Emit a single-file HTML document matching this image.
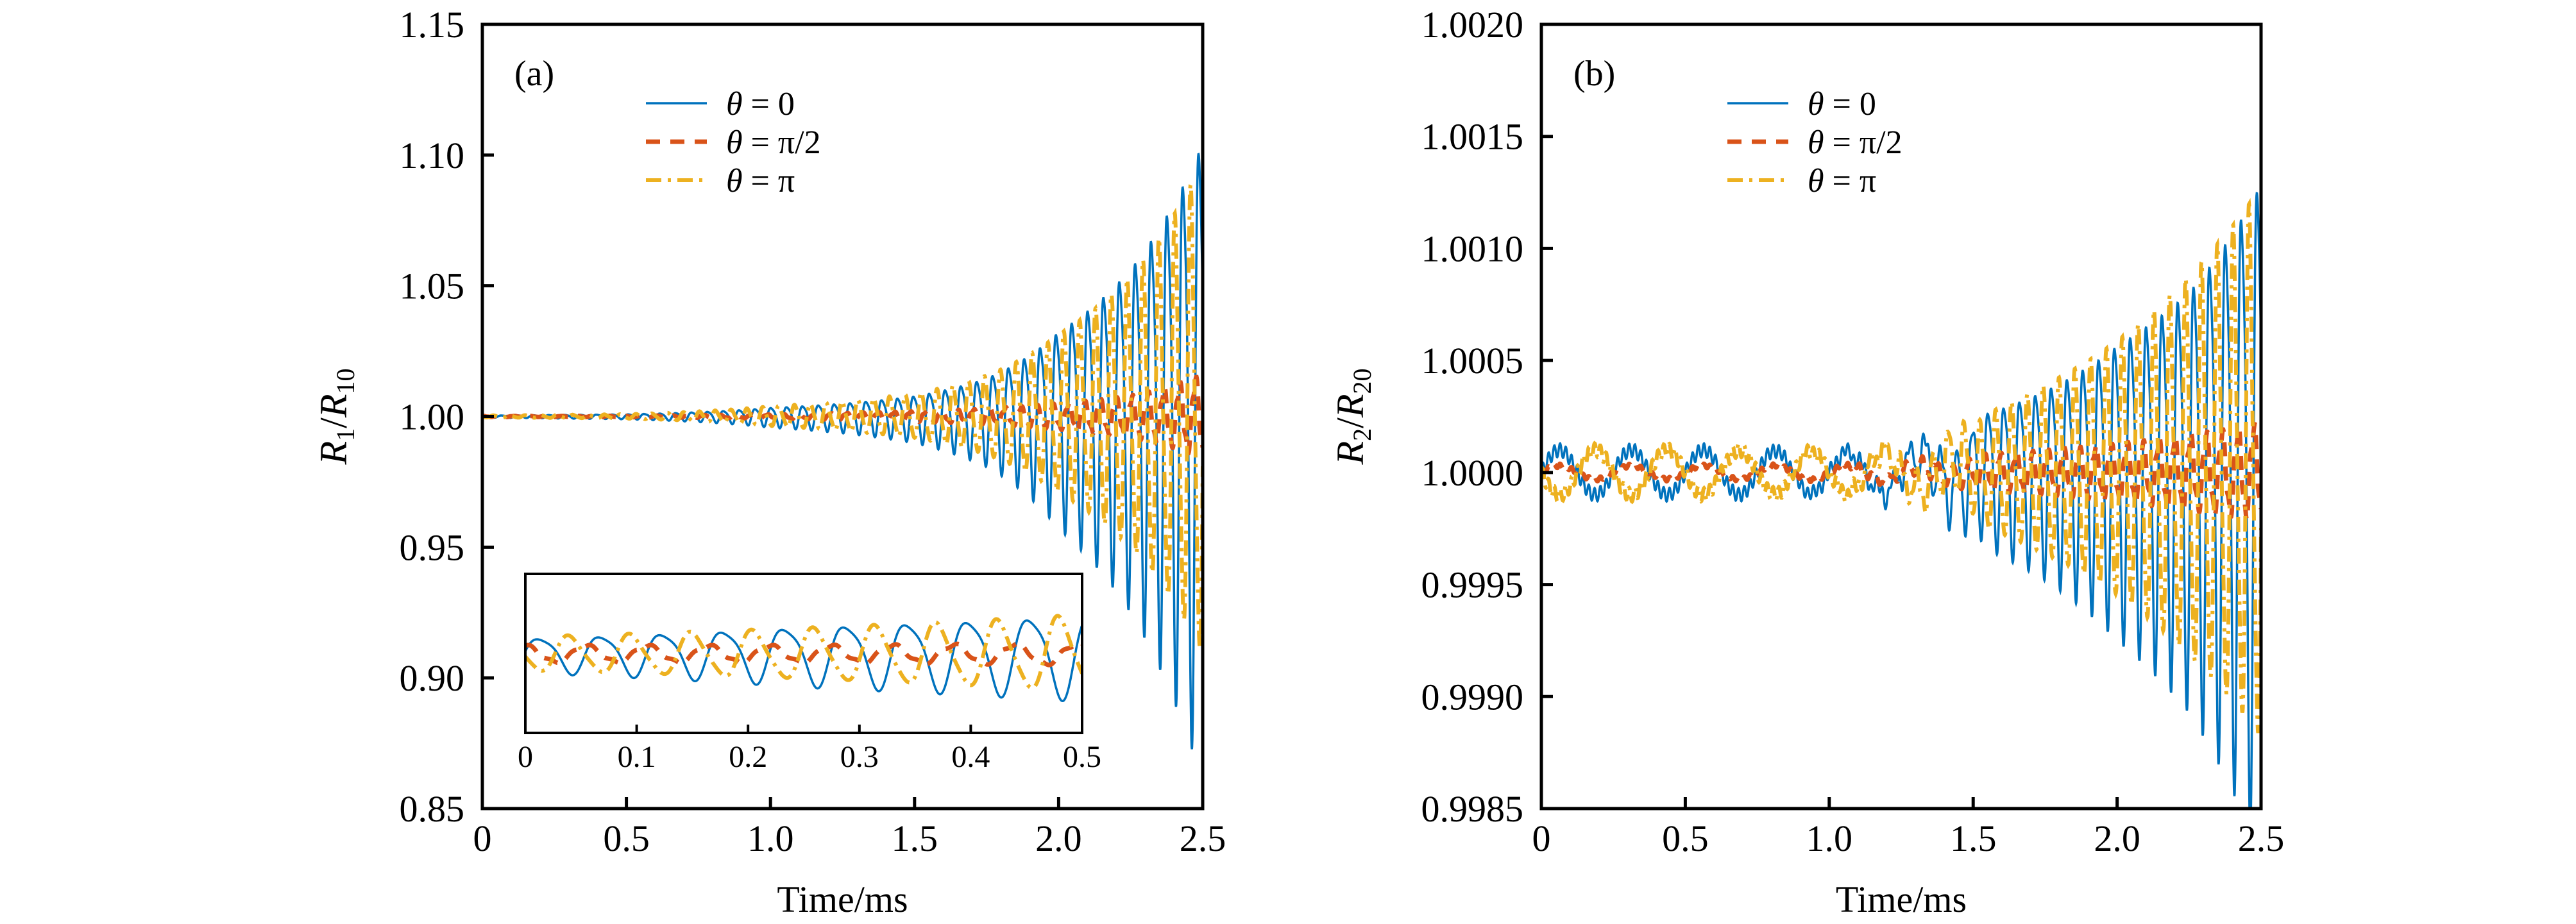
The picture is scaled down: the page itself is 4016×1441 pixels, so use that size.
<!DOCTYPE html>
<html><head><meta charset="utf-8"><style>
html,body{margin:0;padding:0;background:#fff;}
svg{display:block;}
text{font-family:"Liberation Serif",serif;fill:#000;}
</style></head><body>
<svg id="fig" width="4016" height="1441" viewBox="0 0 4016 1441" xmlns="http://www.w3.org/2000/svg"></svg>
<script>
// ---- data (envelopes at t = 0,0.25,...,2.5 ms) ----
const envTimes = [0,0.25,0.5,0.75,1.0,1.25,1.5,1.75,2.0,2.25,2.5];
const aBlue   = [0.0004,0.0007,0.001,0.002,0.004,0.006,0.0095,0.018,0.04,0.07,0.13];
const aOrange = [0.0002,0.0002,0.00025,0.0005,0.0008,0.0013,0.002,0.003,0.005,0.008,0.016];
const aYellow = [0.0004,0.0006,0.0009,0.002,0.004,0.006,0.009,0.016,0.032,0.055,0.1];
const bBlue   = [0.0001,0.0001,0.0001,0.0001,0.0001,0.00015,0.0003,0.00045,0.0007,0.001,0.0016];
const bOrange = [0.00003,0.00003,0.00003,0.00003,0.00004,0.00006,0.00008,0.0001,0.00013,0.00017,0.00022];
const bYellow = [0.0001,0.0001,0.0001,0.0001,0.0001,0.00015,0.00025,0.0004,0.0006,0.0009,0.0013];
const bSlowWeight = [1,1,1,1,0.9,0.6,0.2,0,0,0,0];
const xTicks = ["0","0.5","1.0","1.5","2.0","2.5"];
const xTickVals = [0,0.5,1.0,1.5,2.0,2.5];
const aYTicks = ["0.85","0.90","0.95","1.00","1.05","1.10","1.15"];
const aYVals = [0.85,0.90,0.95,1.00,1.05,1.10,1.15];
const bYTicks = ["0.9985","0.9990","0.9995","1.0000","1.0005","1.0010","1.0015","1.0020"];
const bYVals = [0.9985,0.9990,0.9995,1.0000,1.0005,1.0010,1.0015,1.0020];
const insetTicks = ["0","0.1","0.2","0.3","0.4","0.5"];
const insetTickVals = [0,0.1,0.2,0.3,0.4,0.5];
const legendLabels = ["θ = 0","θ = π/2","θ = π"];
const periodMs = 0.055;

const NS="http://www.w3.org/2000/svg";
const svg=document.getElementById('fig');
function el(tag,attrs,parent){const e=document.createElementNS(NS,tag);for(const k in attrs)e.setAttribute(k,attrs[k]);(parent||svg).appendChild(e);return e;}
function env(arr,t){const i=Math.min(Math.floor(t/0.25),arr.length-2);const f=(t-envTimes[i])/0.25;return Math.exp(Math.log(arr[i])*(1-f)+Math.log(arr[i+1])*f);}
function lin(d0,d1,r0,r1){return v=>r0+(v-d0)/(d1-d0)*(r1-r0);}
const BLUE="#0072BD",ORANGE="#D95319",YELLOW="#EDB120";
const styles=[{c:BLUE,w:3.5,d:null},{c:ORANGE,w:7,d:"22,16"},{c:YELLOW,w:6,d:"24,10,5,10"}];

function sig(kind,t,amp,slowW){
  const w=2*Math.PI*t/periodMs;
  let fast;
  if(kind===0) fast=Math.sin(w)+0.2*Math.sin(2*w+1);
  else if(kind===1) fast=Math.sin(w+1.6)+0.2*Math.sin(3*w);
  else fast=Math.sin(w+Math.PI*1.05)+0.15*Math.sin(2*w);
  fast/=1.1;
  if(slowW!==undefined){
    const ph=kind===2?Math.PI:0;
    const slow=Math.sin(2*Math.PI*t/0.25+ph);
    const ripple=0.3*Math.sin(2*Math.PI*t/0.02);
    return amp*(slowW*(slow+ripple)+(1-slowW)*fast);
  }
  return amp*fast;
}
function drawSeries(g,xs,ys,t0,t1,arrs,slow,clipId){
  const N=3000;
  arrs.forEach((arr,k)=>{
    let d="";
    for(let i=0;i<=N;i++){
      const t=t0+(t1-t0)*i/N;
      const sw=slow?env(slow.map(v=>v+1e-6),t):undefined;
      const v=1+sig(k,t,env(arr,t),sw);
      d+=(i?"L":"M")+xs(t).toFixed(1)+","+ys(v).toFixed(1);
    }
    const p=el('path',{d:d,fill:'none',stroke:styles[k].c,'stroke-width':styles[k].w,'clip-path':'url(#'+clipId+')'},g);
    if(styles[k].d)p.setAttribute('stroke-dasharray',styles[k].d);
    
    
  });
}
function panel(id,L,R,T,B,yVals,yLabels,arrs,slow,lbl,ylabHtml,legX){
  const g=el('g',{});
  
  
  const xs=lin(0,2.5,L,R), ys=lin(yVals[0],yVals[yVals.length-1],B,T);
  const defs=el('defs',{},g);const cp=el('clipPath',{id:'clip'+id},defs);el('rect',{x:L,y:T,width:R-L,height:B-T},cp);
  drawSeries(g,xs,ys,0,2.5,arrs,slow,'clip'+id);
  el('rect',{x:L,y:T,width:R-L,height:B-T,fill:'none',stroke:'#000','stroke-width':5},g);
  xTickVals.forEach((v,i)=>{
    const x=xs(v);
    if(i>0&&i<xTickVals.length-1)el('line',{x1:x,x2:x,y1:B,y2:B-18,stroke:'#000','stroke-width':5},g);
    const t=el('text',{x:x,y:1327,'font-size':58,'text-anchor':'middle'},g);t.textContent=xTicks[i];
    
    
  });
  yVals.forEach((v,i)=>{
    const y=ys(v);
    if(i>0&&i<yVals.length-1)el('line',{x1:L,x2:L+18,y1:y,y2:y,stroke:'#000','stroke-width':5},g);
    const t=el('text',{x:L-28,y:y+20,'font-size':58,'text-anchor':'end'},g);t.textContent=yLabels[i];
    
    
  });
  const xt=el('text',{x:(L+R)/2,y:1422,'font-size':58,'text-anchor':'middle'},g);xt.textContent="Time/ms";
  
  
  const yt=el('text',{x:0,y:0,'font-size':60,'text-anchor':'middle',transform:`translate(${ylabHtml[0]},${(T+B)/2}) rotate(-90)`},g);
  yt.innerHTML=ylabHtml[1];
  
  
  const pl=el('text',{x:L+50,y:133,'font-size':56},g);pl.textContent=lbl;
  
  
  const lg=el('g',{},g);
  
  
  legendLabels.forEach((s,k)=>{
    const y=161+k*60;
    const ln=el('line',{x1:legX,x2:legX+95,y1:y,y2:y,stroke:styles[k].c,'stroke-width':styles[k].w},lg);
    if(styles[k].d)ln.setAttribute('stroke-dasharray',styles[k].d);
    const t=el('text',{x:legX+125,y:y+18,'font-size':52},lg);
    t.innerHTML='<tspan font-style="italic">θ</tspan> = '+s.split('= ')[1];
    
    
  });
  return {xs,ys};
}
panel('a',752,1875,38,1261,aYVals,aYTicks,[aBlue,aOrange,aYellow],null,'(a)',[540,'<tspan font-style="italic">R</tspan><tspan font-size="40" dy="12">1</tspan><tspan dy="-12">/</tspan><tspan font-style="italic">R</tspan><tspan font-size="40" dy="12">10</tspan>'],1007);
panel('b',2403,3525,38,1261,bYVals,bYTicks,[bBlue,bOrange,bYellow],bSlowWeight,'(b)',[2125,'<tspan font-style="italic">R</tspan><tspan font-size="40" dy="12">2</tspan><tspan dy="-12">/</tspan><tspan font-style="italic">R</tspan><tspan font-size="40" dy="12">20</tspan>'],2693);

// inset
(function(){
  const L=819,R=1687,T=895,B=1143;
  const g=el('g',{});
  
  
  el('rect',{x:L,y:T,width:R-L,height:B-T,fill:'#fff'},g);
  const xs=lin(0,0.5,L,R), ys=lin(0.998,1.002,1020+140,1020-140);
  const defs=el('defs',{},g);const cp=el('clipPath',{id:'clipi'},defs);el('rect',{x:L,y:T,width:R-L,height:B-T},cp);
  drawSeries(g,xs,ys,0,0.5,[aBlue,aOrange,aYellow],null,'clipi');
  el('rect',{x:L,y:T,width:R-L,height:B-T,fill:'none',stroke:'#000','stroke-width':4},g);
  insetTickVals.forEach((v,i)=>{
    const x=xs(v);
    if(i>0&&i<insetTickVals.length-1)el('line',{x1:x,x2:x,y1:B,y2:B-13,stroke:'#000','stroke-width':4},g);
    const t=el('text',{x:x,y:1196,'font-size':48,'text-anchor':'middle'},g);t.textContent=insetTicks[i];
    
    
  });
})();
</script>
</body></html>
